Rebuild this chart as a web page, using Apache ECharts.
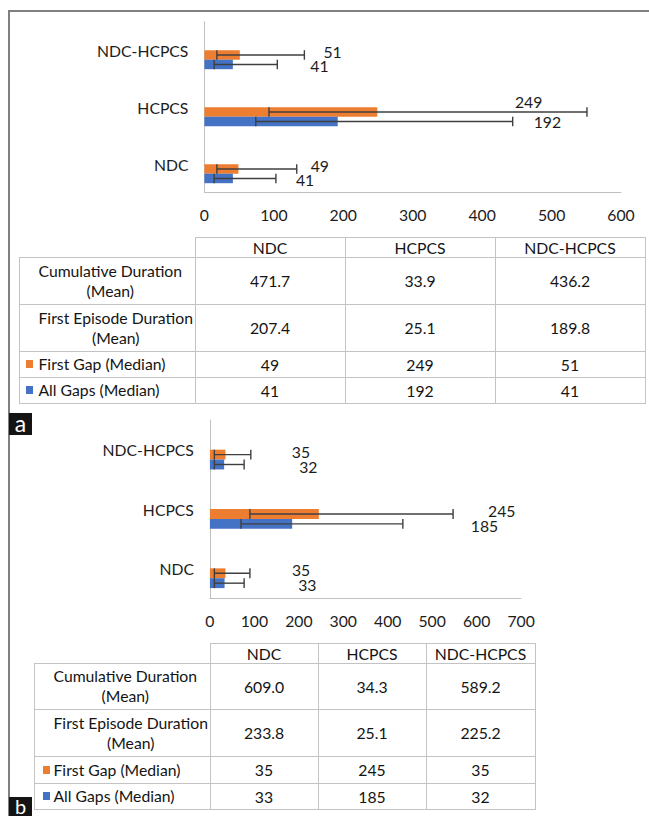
<!DOCTYPE html>
<html>
<head>
<meta charset="utf-8">
<script src="https://cdn.jsdelivr.net/npm/echarts@6/dist/echarts.min.js"></script>
<style>
html, body { margin: 0; padding: 0; background: #fff; }
#wrap { position: relative; width: 649px; height: 816px; overflow: hidden; background: #fff; }
#chart { position: absolute; left: 0; top: 0; width: 649px; height: 816px; }
.ln { position: absolute; background: #c3c3c3; }
.cell { position: absolute; display: flex; align-items: center; justify-content: center; color: #141414; white-space: nowrap; }
.lab { position: absolute; display: flex; align-items: center; color: #141414; white-space: nowrap; }
.blk { display: inline-block; text-align: center; line-height: 20px; }
.key { position: absolute; width: 7px; height: 8px; }
</style>
</head>
<body>
<div id="wrap"><div id="chart"></div></div>
<script>
// ---------------- DATA ----------------
const categories = ['NDC', 'HCPCS', 'NDC-HCPCS'];
const rowLabels = [['Cumulative Duration', '(Mean)'], ['First Episode Duration', '(Mean)'], ['First Gap (Median)'], ['All Gaps (Median)']];
const seriesNames = ['Cumulative Duration (Mean)', 'First Episode Duration (Mean)', 'First Gap (Median)', 'All Gaps (Median)'];
const xMaxA = 600;
const xMaxB = 700;
const xStep = 100;

// Panel a
const cumDurA = [471.7, 33.9, 436.2];
const firstEpA = [207.4, 25.1, 189.8];
const firstGapA = [49, 249, 51];
const allGapsA = [41, 192, 41];
const firstGapLowA = [18, 93, 18];
const firstGapHighA = [133, 551, 144];
const allGapsLowA = [14, 74, 14];
const allGapsHighA = [103, 444, 105];

// Panel b
const cumDurB = [609.0, 34.3, 589.2];
const firstEpB = [233.8, 25.1, 225.2];
const firstGapB = [35, 245, 35];
const allGapsB = [33, 185, 32];
const firstGapLowB = [10, 90, 10];
const firstGapHighB = [90, 547, 92];
const allGapsLowB = [10, 70, 10];
const allGapsHighB = [77, 434, 77];

// ---------------- LAYOUT / STYLE ----------------
const ORANGE = '#ED7D31';
const BLUE = '#4472C4';
const TXT = '#1c1c1c';
const AXIS = '#c0c0c0';
const FAMILY = 'Lato, "Open Sans", "Noto Sans", sans-serif';
function calibrate() {
  const c = document.createElement('canvas').getContext('2d');
  c.font = '100px Lato';
  const w = c.measureText('First Gap (Median)').width;
  return Math.max(12, Math.min(20, 127 * 100 / w));
}
const FS = calibrate();

// value-label offsets (pixels from the end of the error bar), per category [NDC, HCPCS, NDC-HCPCS]
const LABEL_OFF = {
  a: { firstGap: [[14, -3], [-72, -10], [19, -3]], allGaps: [[20, 1], [21, 0], [33, 1.5]] },
  b: { firstGap: [[42, -3.5], [35, -3], [41, -3.5]], allGaps: [[54, 1.5], [68, 2], [55, 1.5]] }
};

const GRIDS = [
  { left: 204.4, top: 21.7, width: 416.6, height: 171 },
  { left: 209.9, top: 420, width: 311.2, height: 178 }
];

// ---------------- CHART ----------------
function errItems(low, high, vals, slot, offs) {
  return categories.map((c, i) => [i, low[i], high[i], slot, vals[i], offs[i][0], offs[i][1]]);
}

function renderErr(params, api) {
  const cat = api.value(0), lo = api.value(1), hi = api.value(2), slot = api.value(3);
  const val = api.value(4), dx = api.value(5), dy = api.value(6);
  const band = api.size([0, 1])[1];
  const p0 = api.coord([lo, cat]);
  const p1 = api.coord([hi, cat]);
  const y = p0[1] - band / 2 + band / 6 * (slot + 1) + band / 12;
  const cap = band / 12;
  const st = { stroke: '#3f3f3f', lineWidth: 1.4 };
  return {
    type: 'group',
    children: [
      { type: 'line', shape: { x1: p0[0], y1: y, x2: p1[0], y2: y }, style: st },
      { type: 'line', shape: { x1: p0[0], y1: y - cap, x2: p0[0], y2: y + cap }, style: st },
      { type: 'line', shape: { x1: p1[0], y1: y - cap, x2: p1[0], y2: y + cap }, style: st },
      { type: 'text', x: p1[0] + dx, y: y + dy,
        style: { text: String(val), fill: TXT, fontSize: FS, fontFamily: FAMILY, align: 'left', verticalAlign: 'middle' } }
    ]
  };
}

function barSeries(g, name, data, color) {
  return {
    type: 'bar', name: name, xAxisIndex: g, yAxisIndex: g,
    data: data, barGap: '0%', barCategoryGap: '33.333%',
    itemStyle: { color: color || 'rgba(0,0,0,0)' }, silent: true
  };
}

const xAxisBase = (g, max) => ({
  gridIndex: g, type: 'value', min: 0, max: max, interval: xStep,
  axisLine: { show: true, lineStyle: { color: AXIS, width: 1 } },
  axisTick: { show: false }, splitLine: { show: false },
  axisLabel: { margin: 22, verticalAlign: 'middle', color: TXT, fontSize: FS, fontFamily: FAMILY }
});
const yAxisBase = (g) => ({
  gridIndex: g, type: 'category', data: categories,
  axisLine: { show: true, lineStyle: { color: AXIS, width: 1 } },
  axisTick: { show: false }, splitLine: { show: false },
  axisLabel: { margin: 16, color: TXT, fontSize: FS, fontFamily: FAMILY }
});

const empty = categories.map(() => '-');

const option = {
  animation: false,
  backgroundColor: '#fff',
  grid: GRIDS,
  xAxis: [xAxisBase(0, xMaxA), xAxisBase(1, xMaxB)],
  yAxis: [yAxisBase(0), yAxisBase(1)],
  series: [
    barSeries(0, seriesNames[0], empty),
    barSeries(0, seriesNames[1], empty),
    barSeries(0, seriesNames[2], firstGapA, ORANGE),
    barSeries(0, seriesNames[3], allGapsA, BLUE),
    barSeries(1, seriesNames[0], empty),
    barSeries(1, seriesNames[1], empty),
    barSeries(1, seriesNames[2], firstGapB, ORANGE),
    barSeries(1, seriesNames[3], allGapsB, BLUE),
    { type: 'custom', xAxisIndex: 0, yAxisIndex: 0, clip: false, z: 5, silent: true,
      encode: { x: [1, 2], y: 0 }, renderItem: renderErr,
      data: errItems(firstGapLowA, firstGapHighA, firstGapA, 2, LABEL_OFF.a.firstGap)
        .concat(errItems(allGapsLowA, allGapsHighA, allGapsA, 3, LABEL_OFF.a.allGaps)) },
    { type: 'custom', xAxisIndex: 1, yAxisIndex: 1, clip: false, z: 5, silent: true,
      encode: { x: [1, 2], y: 0 }, renderItem: renderErr,
      data: errItems(firstGapLowB, firstGapHighB, firstGapB, 2, LABEL_OFF.b.firstGap)
        .concat(errItems(allGapsLowB, allGapsHighB, allGapsB, 3, LABEL_OFF.b.allGaps)) }
  ],
  graphic: [
    { type: 'line', shape: { x1: 8, y1: 11, x2: 649, y2: 11 }, style: { stroke: '#808080', lineWidth: 2 } },
    { type: 'line', shape: { x1: 9, y1: 10, x2: 9, y2: 816 }, style: { stroke: '#808080', lineWidth: 2 } },
    { type: 'rect', shape: { x: 9, y: 413, width: 23, height: 22 }, style: { fill: '#141414' } },
    { type: 'text', x: 20.5, y: 423, style: { text: 'a', fill: '#fff', fontSize: 23, fontFamily: FAMILY, align: 'center', verticalAlign: 'middle' } },
    { type: 'rect', shape: { x: 9, y: 797, width: 23, height: 22 }, style: { fill: '#141414' } },
    { type: 'text', x: 20.5, y: 806, style: { text: 'b', fill: '#fff', fontSize: 20, fontFamily: FAMILY, align: 'center', verticalAlign: 'middle' } }
  ]
};

const chart = echarts.init(document.getElementById('chart'), null, { renderer: 'svg' });
chart.setOption(option);

// ---------------- TABLES ----------------
const wrap = document.getElementById('wrap');
function el(cls, css, html) {
  const d = document.createElement('div');
  d.className = cls;
  Object.assign(d.style, css);
  if (html !== undefined) d.innerHTML = html;
  wrap.appendChild(d);
  return d;
}
function hline(x1, x2, y) { el('ln', { left: x1 + 'px', top: y + 'px', width: (x2 - x1 + 1) + 'px', height: '1px' }); }
function vline(x, y1, y2) { el('ln', { left: x + 'px', top: y1 + 'px', width: '1px', height: (y2 - y1 + 1) + 'px' }); }

function buildTable(t) {
  const cols = t.cols, rows = t.rows;
  hline(cols[1], cols[4], rows[0]);
  for (let r = 1; r < rows.length; r++) hline(cols[0], cols[4], rows[r]);
  vline(cols[0], rows[1], rows[rows.length - 1]);
  for (let c = 1; c < cols.length; c++) vline(cols[c], rows[0], rows[rows.length - 1]);
  const font = { fontSize: FS + 'px', fontFamily: FAMILY };
  // header
  categories.forEach((cat, i) => {
    el('cell', Object.assign({ left: cols[i + 1] + 'px', top: rows[0] + 'px', width: (cols[i + 2] - cols[i + 1]) + 'px', height: (rows[1] - rows[0]) + 'px' }, font), cat);
  });
  // body
  t.values.forEach((vals, r) => {
    const top = rows[r + 1], h = rows[r + 2] - rows[r + 1];
    const lab = el('lab', Object.assign({ left: t.textLeft + 'px', top: top + 'px', height: h + 'px' }, font));
    const blk = document.createElement('div');
    blk.className = 'blk';
    blk.innerHTML = rowLabels[r].join('<br>');
    lab.appendChild(blk);
    if (r >= 2) {
      el('key', { left: t.keyLeft + 'px', top: (top + h / 2 - 4) + 'px', background: r === 2 ? ORANGE : BLUE });
    }
    vals.forEach((v, i) => {
      const txt = r < 2 ? v.toFixed(1) : String(v);
      el('cell', Object.assign({ left: cols[i + 1] + 'px', top: top + 'px', width: (cols[i + 2] - cols[i + 1]) + 'px', height: h + 'px' }, font), txt);
    });
  });
}

buildTable({
  cols: [19, 195, 345, 495, 645],
  rows: [237, 257, 304, 351, 377, 403],
  textLeft: 38.5, keyLeft: 25.5,
  values: [cumDurA, firstEpA, firstGapA, allGapsA]
});
buildTable({
  cols: [34, 210, 318, 426, 535],
  rows: [643, 663, 709, 756, 783, 809],
  textLeft: 53.5, keyLeft: 43,
  values: [cumDurB, firstEpB, firstGapB, allGapsB]
});
</script>
</body>
</html>
